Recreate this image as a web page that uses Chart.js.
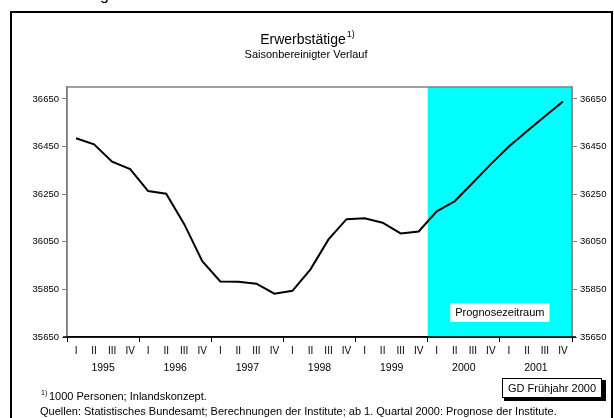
<!DOCTYPE html>
<html>
<head>
<meta charset="utf-8">
<script src="https://cdn.jsdelivr.net/npm/chart.js@4"></script>
<style>
  body { margin: 0; background: #fff; }
  canvas { display: block; }
</style>
</head>
<body>
<canvas id="myChart" width="614" height="418"></canvas>
<script>

// Erwerbstätige, saisonbereinigt, 1000 Personen (1995 Q1 - 2001 Q4)

const quarters = ['I', 'II', 'III', 'IV', 'I', 'II', 'III', 'IV', 'I', 'II', 'III', 'IV', 'I', 'II', 'III', 'IV',
  'I', 'II', 'III', 'IV', 'I', 'II', 'III', 'IV', 'I', 'II', 'III', 'IV'];
const years = ['1995', '1996', '1997', '1998', '1999', '2000', '2001'];
const employed = [36485, 36459, 36386, 36355, 36263, 36252, 36124, 35968,
  35883, 35882, 35874, 35832, 35844, 35934, 36060, 36145,
  36149, 36130, 36085, 36093, 36178, 36220, 36298, 36376,
  36450, 36514, 36577, 36639];
const yTicks = [35650, 35850, 36050, 36250, 36450, 36650];
const forecastStart = 20; // 1. Quartal 2000

const font = '"Liberation Sans", Arial, sans-serif';

const decor = {
  id: 'decor',
  beforeDraw(chart) {
    const c = chart.ctx;
    c.save();
    c.fillStyle = '#fff';
    c.fillRect(0, 0, chart.width, chart.height);
    c.restore();
  },
  beforeDatasetsDraw(chart) {
    const c = chart.ctx;
    const a = chart.chartArea;
    const x = chart.scales.x;
    const left = (x.getPixelForValue(forecastStart - 1) + x.getPixelForValue(forecastStart)) / 2;
    c.save();
    c.fillStyle = '#00ffff';
    c.fillRect(left, a.top, a.right - left, a.bottom - a.top);

    // label box
    c.font = '11px ' + font;
    const txt = 'Prognosezeitraum';
    const w = c.measureText(txt).width + 10;
    const cx = (left + a.right) / 2;
    c.fillStyle = '#fff';
    c.fillRect(cx - w / 2, a.bottom - 34, w, 19);
    c.fillStyle = '#000';
    c.textAlign = 'center';
    c.textBaseline = 'middle';
    c.fillText(txt, cx, a.bottom - 24);
    c.restore();
  },
  afterDraw(chart) {
    const c = chart.ctx;
    const a = chart.chartArea;
    const x = chart.scales.x;
    c.save();

    // plot frame
    c.strokeStyle = '#808080';
    c.lineWidth = 1.5;
    c.beginPath();
    c.moveTo(a.left, a.bottom);
    c.lineTo(a.left, a.top);
    c.lineTo(a.right, a.top);
    c.lineTo(a.right, a.bottom);
    c.stroke();
    c.strokeStyle = '#000';
    c.lineWidth = 1.5;
    c.beginPath();
    c.moveTo(a.left - 4, a.bottom);
    c.lineTo(a.right + 4, a.bottom);
    c.stroke();

    // year labels
    c.fillStyle = '#000';
    c.textAlign = 'center';
    c.textBaseline = 'middle';
    c.font = '10.5px ' + font;
    years.forEach((y, i) => {
      const px = (x.getPixelForValue(i * 4) + x.getPixelForValue(i * 4 + 3)) / 2;
      c.fillText(y, px, 368);
    });

    // title
    c.font = '14px ' + font;
    c.textAlign = 'left';
    c.textBaseline = 'alphabetic';
    const t = 'Erwerbstätige';
    const tw = c.measureText(t).width;
    const tx = 303 - tw / 2;
    c.fillText(t, tx, 44);
    c.font = '9px ' + font;
    c.fillText('1)', tx + tw + 1, 37);
    c.font = '11px ' + font;
    c.textAlign = 'center';
    c.fillText('Saisonbereinigter Verlauf', 306, 58);

    // footnotes
    c.textAlign = 'left';
    c.font = '7px ' + font;
    c.fillText('1)', 41, 395);
    c.font = '11px ' + font;
    c.fillText('1000 Personen; Inlandskonzept.', 49, 400);
    c.fillText('Quellen: Statistisches Bundesamt; Berechnungen der Institute; ab 1. Quartal 2000: Prognose der Institute.', 40, 415);

    // GD box
    c.fillStyle = '#000';
    c.fillRect(504, 380, 102, 21);
    c.fillStyle = '#fff';
    c.fillRect(502, 378, 100, 20);
    c.strokeStyle = '#000';
    c.lineWidth = 1;
    c.strokeRect(502.5, 378.5, 99, 19);
    c.fillStyle = '#000';
    c.font = '11px ' + font;
    c.textAlign = 'center';
    c.textBaseline = 'middle';
    c.fillText('GD Frühjahr 2000', 552, 388.5);

    // outer frame
    c.lineWidth = 2;
    c.strokeRect(11, 12, 601, 430);

    // leftover glyph of the text above the frame
    c.font = '16px ' + font;
    c.textAlign = 'left';
    c.textBaseline = 'alphabetic';
    c.fillText('g', 100, 0);
    c.restore();
  }
};

const yAxis = (pos, width) => ({
  type: 'linear',
  position: pos,
  min: 35650,
  max: 36700,
  afterBuildTicks: s => { s.ticks = yTicks.map(v => ({ value: v })); },
  afterFit: s => { s.width = width; },
  grid: { drawOnChartArea: false, tickLength: 5, color: '#808080', lineWidth: 1 },
  border: { color: '#808080', width: 1.5 },
  ticks: { color: '#000', font: { family: font, size: 9.5 }, padding: 3, callback: v => String(v) }
});

const ctx = document.getElementById('myChart');

const myChart = new Chart(ctx, {
  type: 'line',
  data: {
    labels: quarters,
    datasets: [{
      label: 'Erwerbstätige',
      data: employed,
      borderColor: '#000',
      borderWidth: 2,
      pointRadius: 0,
      tension: 0,
      yAxisID: 'y'
    }]
  },
  options: {
    responsive: false,
    animation: false,
    layout: { padding: { top: 87, left: 0, right: 0, bottom: 0 } },
    plugins: {
      legend: { display: false },
      title: { display: false },
      tooltip: { enabled: false }
    },
    scales: {
      x: {
        type: 'category',
        offset: true,
        afterFit: s => { s.height = 81; },
        grid: {
          offset: true,
          drawOnChartArea: false,
          tickLength: 5,
          lineWidth: 1,
          color: c => (c.index === undefined || c.index % 4 === 0) ? '#000' : 'rgba(0,0,0,0)'
        },
        border: { color: '#000', width: 1.5 },
        ticks: { color: '#000', autoSkip: false, maxRotation: 0, font: { family: font, size: 10 }, padding: 3 }
      },
      y: yAxis('left', 67),
      y2: yAxis('right', 42)
    }
  },
  plugins: [decor]
});

</script>
</body>
</html>
